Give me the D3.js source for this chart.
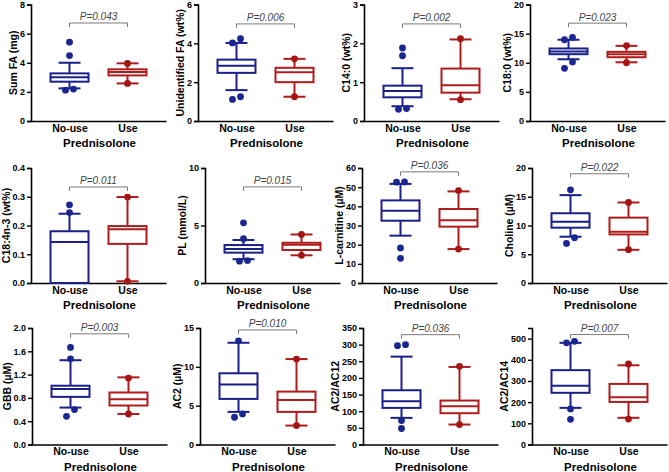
<!DOCTYPE html>
<html><head><meta charset="utf-8">
<script src="https://cdn.jsdelivr.net/npm/d3@7"></script>
<style>
body{margin:0;background:#fff}
svg{display:block}
text{font-family:"Liberation Sans",Arial,Helvetica,sans-serif}
</style>
</head><body><svg id="c" width="669" height="472"></svg>
<script>
// ---------------- DATA ----------------
const categories = ["No-use", "Use"];
const xTitle = "Prednisolone";
const yLabels = ["Sum FA (mg)", "Unidentified FA (wt%)", "C14:0 (wt%)", "C18:0 (wt%)",
  "C18:4n-3 (wt%)", "PL (mmol/L)", "L-carnitine (µM)", "Choline (µM)",
  "GBB (µM)", "AC2 (µM)", "AC2/AC12", "AC2/AC14"];
const pLabels = ["P=0.043", "P=0.006", "P=0.002", "P=0.023", "P=0.011", "P=0.015",
  "P=0.036", "P=0.022", "P=0.003", "P=0.010", "P=0.036", "P=0.007"];
const yMax = [8, 6, 3, 20, 0.4, 10, 60, 20, 2.0, 15, 350, 550];
const yStep = [2, 2, 1, 5, 0.1, 5, 10, 5, 0.4, 5, 50, 100];
const yDecimals = [0, 0, 0, 0, 1, 0, 0, 0, 1, 0, 0, 0];
// [whisker low, Q1, median, Q3, whisker high]
const noUseBox = [
  [2.24, 2.70, 3.00, 3.27, 4.00],
  [1.59, 2.48, 2.84, 3.16, 4.02],
  [0.38, 0.61, 0.77, 0.91, 1.36],
  [10.6, 11.47, 11.93, 12.45, 13.95],
  [0.0, 0.0, 0.143, 0.180, 0.241],
  [2.07, 2.64, 2.96, 3.30, 3.74],
  [24.7, 32.5, 37.7, 43.1, 51.7],
  [8.05, 9.62, 10.67, 12.13, 15.28],
  [0.634, 0.818, 0.951, 1.009, 1.447],
  [4.2, 5.87, 7.71, 9.17, 13.1],
  [80, 110, 130, 163, 264],
  [173, 244, 277, 351, 480]
];
const useBox = [
  [2.58, 3.13, 3.36, 3.55, 3.96],
  [1.25, 2.00, 2.51, 2.74, 3.20],
  [0.56, 0.73, 0.92, 1.35, 2.10],
  [10.08, 10.95, 11.47, 11.87, 12.9],
  [0.006, 0.136, 0.187, 0.198, 0.299],
  [2.41, 2.87, 3.33, 3.50, 4.22],
  [17.7, 29.4, 32.7, 38.6, 47.8],
  [5.77, 8.45, 8.92, 11.37, 14.0],
  [0.524, 0.669, 0.778, 0.893, 1.153],
  [2.44, 4.2, 5.74, 6.81, 11.0],
  [60, 94, 115, 132, 233],
  [126, 201, 223, 286, 374]
];
const noUseOutliers = [
  [5.41, 4.49, 2.12, 2.19],
  [4.24, 4.02, 1.11, 1.25],
  [1.88, 1.68, 0.30, 0.32],
  [14.35, 13.95, 9.05, 10.15],
  [0.272, 0.245],
  [5.23, 3.85, 1.90, 1.95],
  [52.7, 52.6, 18.3, 12.9],
  [16.2, 6.88, 7.87],
  [1.666, 1.47, 0.60, 0.484],
  [13.35, 3.51, 3.94],
  [297, 300, 72, 48],
  [480, 487, 168, 119]
];
const useOutliers = [
  [3.95, 2.58], [3.20, 1.25], [2.12, 0.55], [12.95, 10.0], [0.299, 0.006], [4.22, 2.41],
  [48.2, 17.7], [14.0, 5.8], [1.14, 0.524], [11.0, 2.44], [235, 60], [380, 120]
];
// level (data units) of the significance bracket
const bracketAt = [6.73, 5.0, 2.5, 16.8, 0.334, 8.36, 58, 19.0, 1.9, 14.75, 330, 519];

// ---------------- LAYOUT ----------------
const axisLeft = [31, 198, 364, 530, 31, 205, 362, 532, 32, 200, 363, 532];
const rowTop = [4.5, 168, 328];
const rowBottom = [121, 283, 444.5];
const plotW = 135;
const colors = { "No-use": "#1b1f8a", "Use": "#b01c1c" };
const dotColors = { "No-use": "#1a2590", "Use": "#a31515" };

const svg = d3.select("#c");

yLabels.forEach((lab, i) => {
  const row = Math.floor(i / 4);
  const g = svg.append("g").attr("transform", `translate(${axisLeft[i]},0)`);
  const y = d3.scaleLinear().domain([0, yMax[i]]).range([rowBottom[row], rowTop[row]]);
  const x = d3.scalePoint().domain(categories).range([0, plotW]).padding(0.664);
  const ticks = d3.range(0, yMax[i] + yStep[i] * 0.01, yStep[i]).map(v => +v.toFixed(4));
  const fmt = d3.format(yDecimals[i] ? ".1f" : "d");

  // y axis
  const ya = g.append("g").call(d3.axisLeft(y).tickValues(ticks).tickFormat(fmt).tickSize(4).tickPadding(2));
  ya.select(".domain").attr("stroke", "#000").attr("stroke-width", 1.6);
  ya.selectAll(".tick line").attr("stroke", "#000").attr("stroke-width", 1.4);
  ya.selectAll(".tick text").attr("font-size", 9).attr("font-weight", "bold").attr("fill", "#000")
    .attr("font-family", "Liberation Sans, Arial, sans-serif");
  ya.attr("font-family", null);

  // x axis
  const xa = g.append("g").attr("transform", `translate(0,${y(0)})`)
    .call(d3.axisBottom(x).tickSize(0).tickPadding(3.5).tickSizeOuter(0));
  xa.select(".domain").attr("stroke", "#000").attr("stroke-width", 1.6);
  xa.selectAll(".tick text").attr("font-size", 10.5).attr("font-weight", "bold").attr("fill", "#000")
    .attr("font-family", "Liberation Sans, Arial, sans-serif");
  xa.attr("font-family", null);

  // x title
  g.append("text").attr("x", plotW / 2 + 1).attr("y", y(0) + 26)
    .attr("text-anchor", "middle").attr("font-size", 11.5).attr("font-weight", "bold")
    .text(xTitle);

  // y title, placed just left of the widest tick label
  let tickLeft = 0;
  ya.selectAll(".tick text").each(function () {
    const b = this.getBBox();
    tickLeft = Math.min(tickLeft, b.x);
  });
  const yMid = (y(0) + y(yMax[i])) / 2;
  const base = Math.max(tickLeft - 2.5, 10 - axisLeft[i] - 0);
  g.append("text").attr("transform", `translate(${base},${yMid}) rotate(-90)`)
    .attr("text-anchor", "middle").attr("font-size", 10.5).attr("font-weight", "bold")
    .text(lab);

  // boxes
  const groups = [["No-use", noUseBox[i], noUseOutliers[i]], ["Use", useBox[i], useOutliers[i]]];
  const bw = 19, cw = 11, r = 3.4;
  groups.forEach(([cat, st, outs]) => {
    const cx = x(cat), col = colors[cat];
    const [wl, q1, md, q3, wh] = st;
    const gg = g.append("g").attr("stroke", col).attr("stroke-width", 2).attr("fill", "none");
    gg.append("line").attr("x1", cx).attr("x2", cx).attr("y1", y(q3)).attr("y2", y(wh));
    gg.append("line").attr("x1", cx).attr("x2", cx).attr("y1", y(q1)).attr("y2", y(wl));
    gg.append("line").attr("x1", cx - cw).attr("x2", cx + cw).attr("y1", y(wh)).attr("y2", y(wh));
    gg.append("line").attr("x1", cx - cw).attr("x2", cx + cw).attr("y1", y(wl)).attr("y2", y(wl));
    gg.append("rect").attr("x", cx - bw).attr("width", 2 * bw)
      .attr("y", y(q3)).attr("height", Math.max(0, y(q1) - y(q3))).attr("fill", "#fff");
    gg.append("line").attr("x1", cx - bw).attr("x2", cx + bw).attr("y1", y(md)).attr("y2", y(md));

    // outliers with simple collision spreading
    const sorted = outs.slice().sort((a, b) => a - b);
    const placed = [];
    let k = 0;
    while (k < sorted.length) {
      if (k + 1 < sorted.length && Math.abs(y(sorted[k]) - y(sorted[k + 1])) < 2 * r + 0.5) {
        placed.push([sorted[k], -4]);
        placed.push([sorted[k + 1], 4]);
        k += 2;
      } else {
        placed.push([sorted[k], 0]);
        k += 1;
      }
    }
    g.selectAll(null).data(placed).enter().append("circle")
      .attr("cx", d => cx + d[1]).attr("cy", d => y(d[0])).attr("r", r)
      .attr("fill", dotColors[cat]);
  });

  // significance bracket
  const by = y(bracketAt[i]);
  const x1 = x(categories[0]), x2 = x(categories[1]);
  g.append("path")
    .attr("d", `M${x1},${by + 4}V${by}H${x2}V${by + 4}`)
    .attr("fill", "none").attr("stroke", "#7a7a7a").attr("stroke-width", 1);
  g.append("text").attr("x", (x1 + x2) / 2).attr("y", by - 2.5)
    .attr("text-anchor", "middle").attr("font-size", 10).attr("font-style", "italic")
    .attr("fill", "#444").text(pLabels[i]);
});
</script>
</body></html>
